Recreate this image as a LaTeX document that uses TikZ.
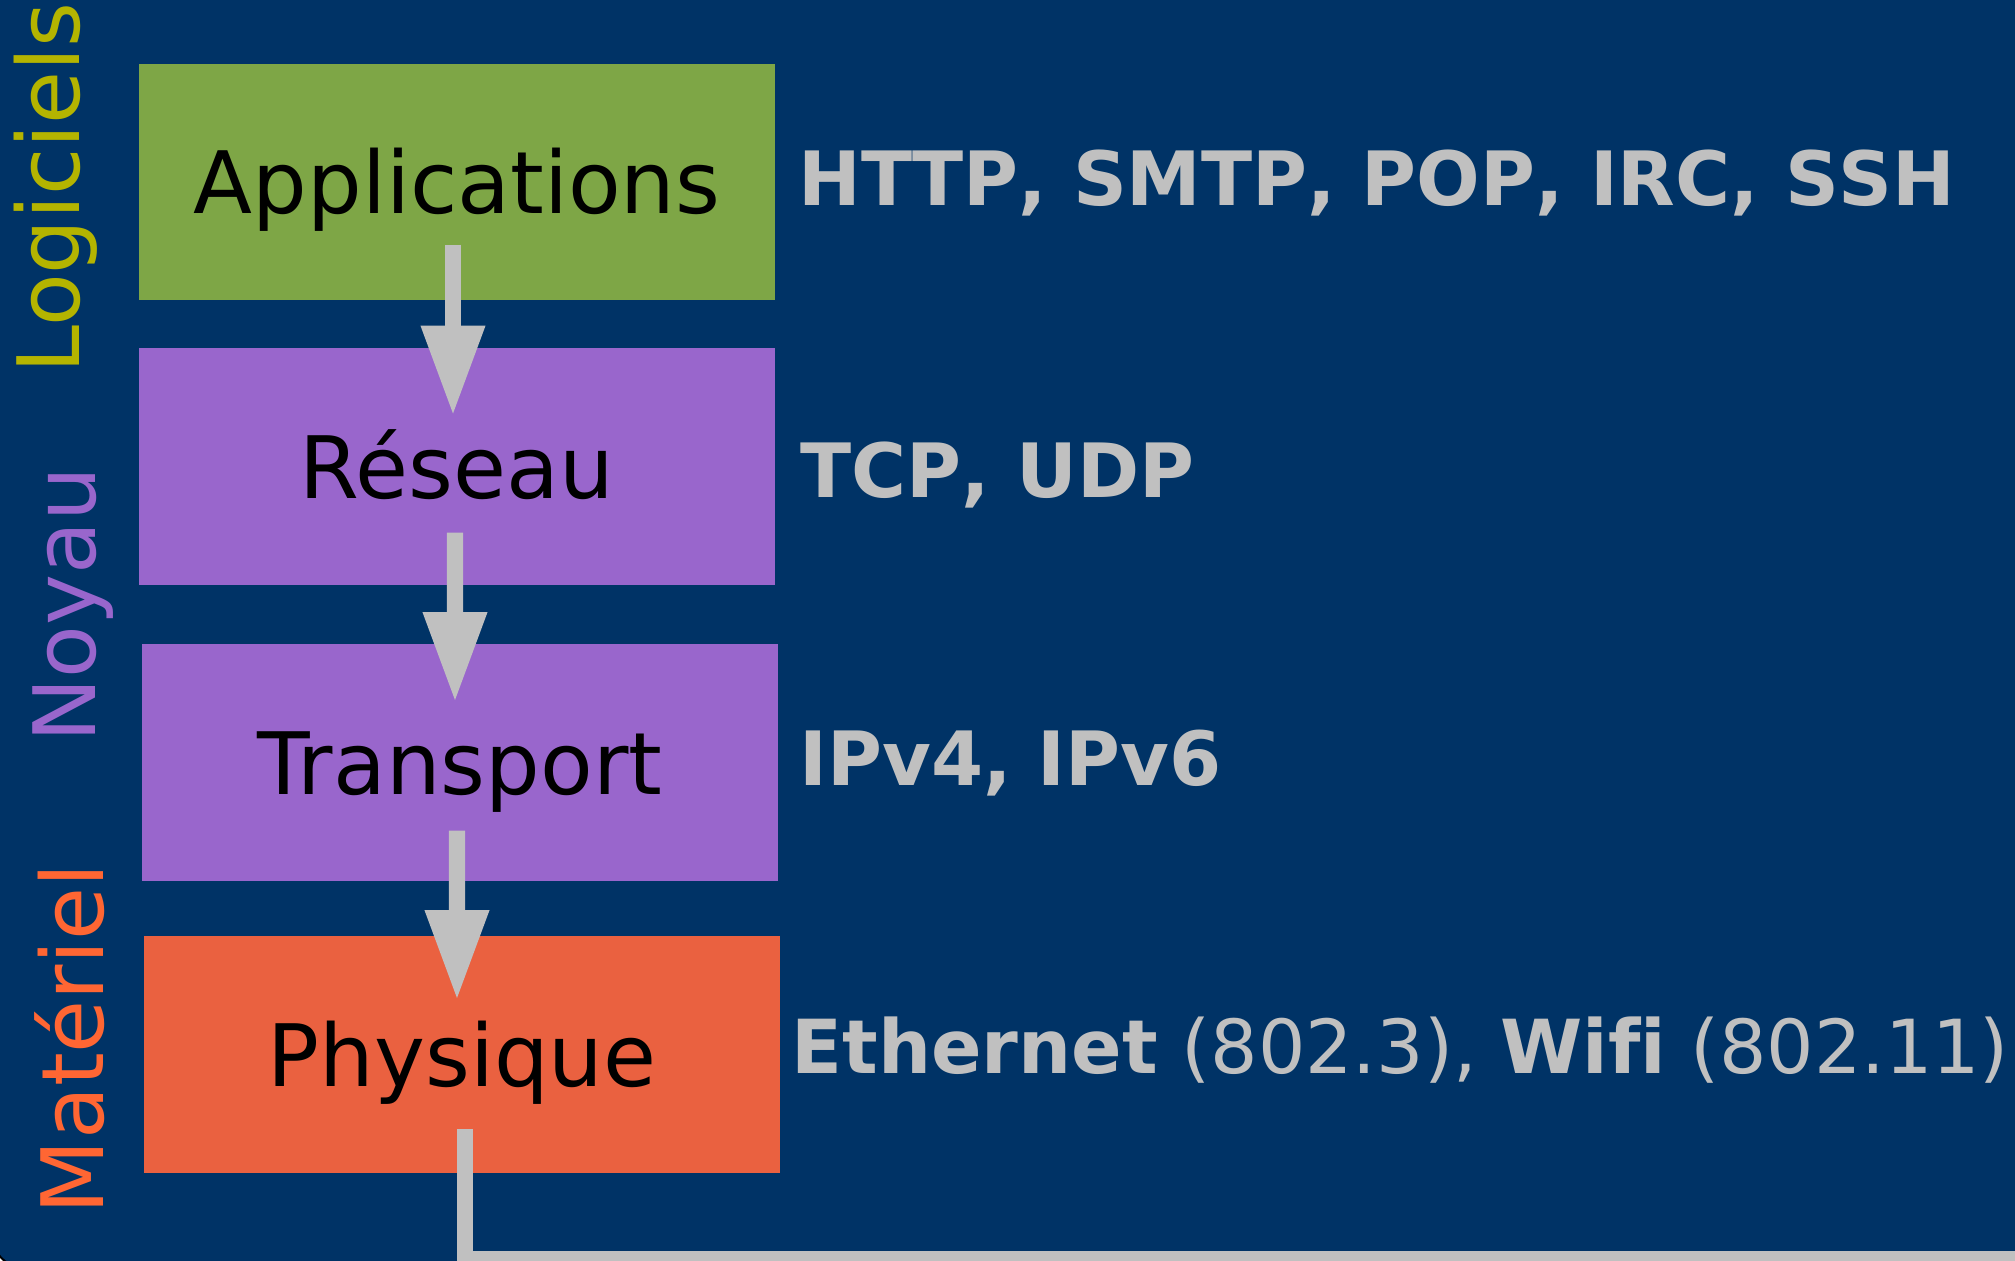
\documentclass[tikz,border=0pt]{standalone}
\usepackage{fontspec}
\setmainfont{DejaVu Sans}
\newfontfamily\protofont{DejaVu Sans}[Kerning=Off, Ligatures=NoCommon]
\usetikzlibrary{arrows.meta}
\definecolor{bgblue}{HTML}{003366}
\definecolor{appgreen}{HTML}{7EA646}
\definecolor{kernpurple}{HTML}{9966CC}
\definecolor{hworange}{HTML}{EA6140}
\definecolor{softyellow}{HTML}{B4B400}
\definecolor{hwlabel}{HTML}{FF6633}
\definecolor{arrowgrey}{HTML}{C0C0C0}
\begin{document}
\begin{tikzpicture}[x=0.01cm, y=-0.01cm,
  layerbox/.style={fill=#1, minimum width=6.36cm, minimum height=2.36cm, inner sep=0pt, text height=0.63cm, text depth=0pt, font=\fontsize{24.5pt}{29pt}\selectfont},
  proto/.style={anchor=base west, inner sep=0pt, text=arrowgrey, font=\protofont\fontsize{21.3pt}{26pt}\selectfont\bfseries},
  side/.style={rotate=90, anchor=base, inner sep=0pt, text=#1, font=\fontsize{24.5pt}{29pt}\selectfont},
  flow/.style={draw=arrowgrey, line width=0.16cm, -{Triangle[length=0.9cm, width=0.6cm]}}]
\useasboundingbox (0,0) rectangle (2015,1261);
\draw[fill=bgblue, draw=black, line width=0.02cm, rounded corners=0.4cm] (-10,-50) rectangle (2100,1270);

\node[layerbox=appgreen] (app) at (457,182) {Applications};
\node[layerbox=kernpurple] (res) at (457,466.5) {Réseau};
\node[layerbox=kernpurple] (trs) at (460,762.5) {Transport};
\node[layerbox=hworange] (phy) at (462,1054.5) {Physique};

\draw[flow] ([xshift=-0.04cm, yshift=0.56cm]app.south) -- ([xshift=-0.04cm, yshift=-0.68cm]res.north);
\draw[flow] ([xshift=-0.02cm, yshift=0.525cm]res.south) -- ([xshift=-0.05cm, yshift=-0.585cm]trs.north);
\draw[flow] ([xshift=-0.03cm, yshift=0.505cm]trs.south) -- ([xshift=-0.05cm, yshift=-0.645cm]phy.north);

\coordinate (far) at (2040,1259);
\draw[draw=arrowgrey, line width=0.16cm] ([xshift=0.03cm, yshift=0.445cm]phy.south) |- (far);

\node[proto] (p1) at (798,206) {HTTP, SMTP, POP, IRC, SSH};
\node[proto] (p2) at (800,498) {TCP, UDP};
\node[proto] (p3) at (799,785) {IPv4, IPv6};
\node[proto, font=\protofont\fontsize{21.2pt}{26pt}\selectfont\bfseries] (p4) at (791,1073) {Ethernet\textmd{ (802.3), }Wifi\textmd{ (802.11)}};

\node[side=softyellow] (soft) at (80,188) {Logiciels};
\node[side=kernpurple] (kern) at (95,605) {Noyau};
\node[side=hwlabel] (hard) at (103,1039) {Matériel};
\end{tikzpicture}
\end{document}
